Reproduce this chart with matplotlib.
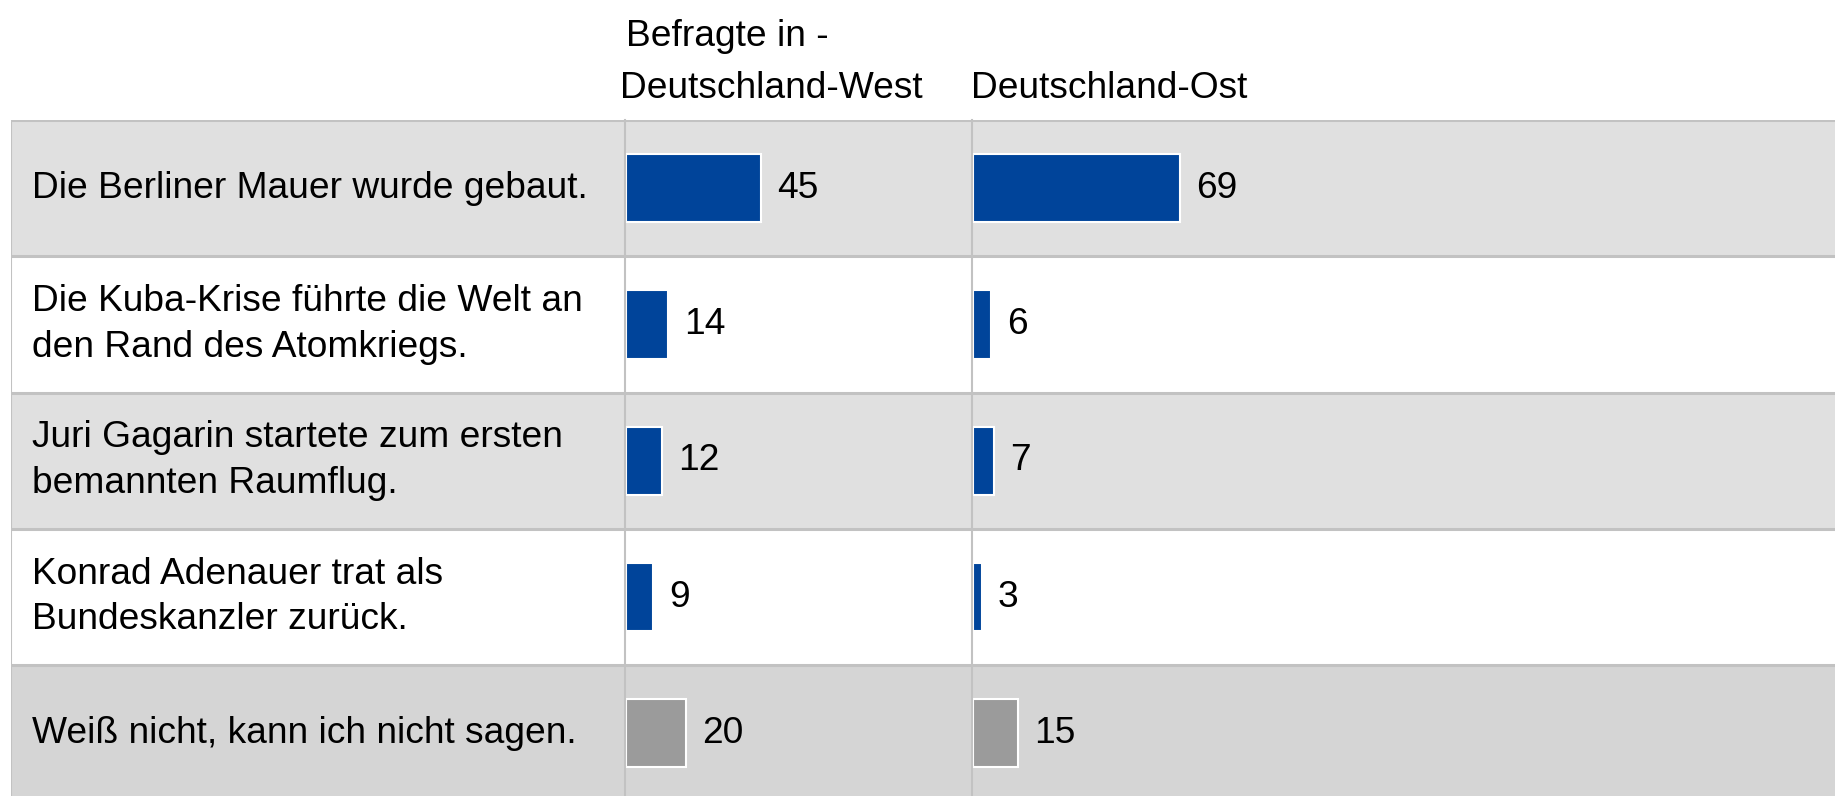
import matplotlib.pyplot as plt
from matplotlib.transforms import blended_transform_factory

plt.rcParams['font.family'] = ['Liberation Sans', 'DejaVu Sans']

# data
statements = [
    'Die Berliner Mauer wurde gebaut.',
    'Die Kuba-Krise führte die Welt an\nden Rand des Atomkriegs.',
    'Juri Gagarin startete zum ersten\nbemannten Raumflug.',
    'Konrad Adenauer trat als\nBundeskanzler zurück.',
    'Weiß nicht, kann ich nicht sagen.',
]
west = [45, 14, 12, 9, 20]
east = [69, 6, 7, 3, 15]
header_top = 'Befragte in -'
header_cols = ['Deutschland-West', 'Deutschland-Ost']

BLUE = '#00449a'
GREY_BAR = '#9b9b9b'
ROW_GREY = '#e0e0e0'
ROW_LAST = '#d5d5d5'
LINE = '#c2c2c2'
FS = 26.7

W, H = 1835, 796
fig = plt.figure(figsize=(W / 100, H / 100), dpi=100)

top_px = 120
row_px = 136.3
n = len(statements)
visible_rows = (H - top_px) / row_px
ylim = (-0.5 + visible_rows, -0.5)
ax_h = (H - top_px) / H

# Tabelle im Hintergrund
bg = fig.add_axes([11 / W, 0, 1 - 11 / W, ax_h])
bg.set_xlim(0, 1)
bg.set_ylim(*ylim)
bg.axis('off')
for i in range(n):
    if i == n - 1:
        c = ROW_LAST
    elif i % 2 == 0:
        c = ROW_GREY
    else:
        c = 'white'
    bg.axhspan(i - 0.5, i + 0.5, color=c, zorder=0, lw=0)
for i in range(n):
    bg.axhline(i - 0.5, color=LINE, lw=2.2, zorder=1)
bg.axvline(0, color=LINE, lw=1.5, zorder=1)

tr = blended_transform_factory(fig.transFigure, bg.transData)
for i, s in enumerate(statements):
    bg.text(32 / W, i, s, transform=tr, fontsize=FS, va='center', ha='left',
            linespacing=1.4, zorder=3)

px_per_unit = 3.0
col_x = [625, 972]
col_r = [972, W]
for k, vals in enumerate([west, east]):
    ax = fig.add_axes([col_x[k] / W, 0, (col_r[k] - col_x[k]) / W, ax_h])
    ax.patch.set_alpha(0)
    ax.set_xlim(-0.3, (col_r[k] - col_x[k]) / px_per_unit - 0.3)
    ax.set_ylim(*ylim)
    colors = [BLUE] * (n - 1) + [GREY_BAR]
    ax.barh(range(n), vals, height=0.5, color=colors, edgecolor='white',
            linewidth=1.5, zorder=2)
    for i, v in enumerate(vals):
        ax.text(v + 5.3, i, str(v), fontsize=FS, va='center', ha='left', zorder=3)
    for side in ['top', 'right', 'bottom']:
        ax.spines[side].set_visible(False)
    ax.spines['left'].set_color(LINE)
    ax.spines['left'].set_linewidth(1.5)
    ax.spines['left'].set_position(('data', -0.3))
    ax.set_xticks([])
    ax.set_yticks([])
    fig.text((col_x[k] - 5 + (k * 4)) / W, 1 - 88 / H, header_cols[k],
             fontsize=FS, va='center', ha='left')

fig.text(626 / W, 1 - 37 / H, header_top, fontsize=FS, va='center', ha='left')

fig.savefig('out.png', dpi=100)
